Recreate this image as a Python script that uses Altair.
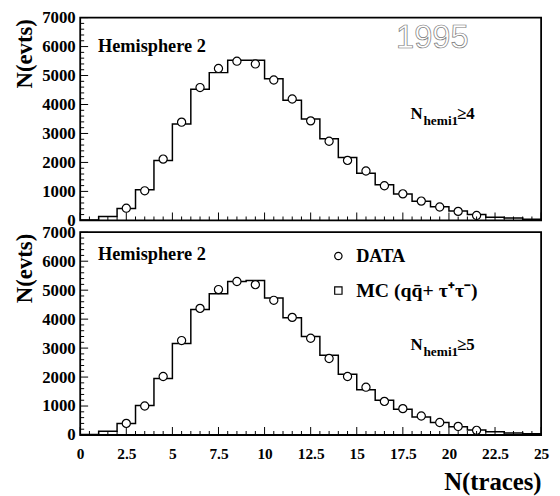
import altair as alt
import pandas as pd

# ---------------- data ----------------
edges = list(range(26))  # bin edges 0..25 (bin width 1)

mc_top = [15, 130, 410, 1060, 2070, 3330, 4530, 5100, 5530, 5530, 4890, 4150, 3500,
          2820, 2170, 1630, 1230, 910, 660, 470, 320, 200, 110, 80, 35]
mc_bot = [15, 130, 400, 1020, 1950, 3155, 4335, 4880, 5300, 5330, 4730, 4050, 3400,
          2750, 2100, 1565, 1200, 885, 625, 430, 285, 170, 110, 70, 40]

data_x = [2.5, 3.5, 4.5, 5.5, 6.5, 7.5, 8.5, 9.5, 10.5, 11.5, 12.5, 13.5, 14.5,
          15.5, 16.5, 17.5, 18.5, 19.5, 20.5, 21.5]
data_top = [420, 1020, 2115, 3390, 4585, 5245, 5495, 5400, 4845, 4190, 3435, 2730,
            2070, 1705, 1195, 915, 665, 460, 310, 170]
data_bot = [400, 1000, 2020, 3260, 4370, 5020, 5300, 5190, 4650, 4060, 3340, 2640,
            2020, 1650, 1160, 910, 655, 432, 296, 160]

x_major = [0, 2.5, 5, 7.5, 10, 12.5, 15, 17.5, 20, 22.5, 25]
x_minor = [i * 0.5 for i in range(51) if (i * 0.5) not in x_major]
y_major = [0, 1000, 2000, 3000, 4000, 5000, 6000, 7000]
y_minor = [i * 200 for i in range(36) if (i * 200) % 1000 != 0]

W, H = 466, 205
SERIF = "Liberation Serif"

xscale = alt.Scale(domain=[0, 25], nice=False, zero=False)
yscale = alt.Scale(domain=[0, 7000], nice=False, zero=False)


def text_layer(txt, x, y, size=18.5, font=SERIF, weight="bold", align="left", **kw):
    kw.setdefault("color", "black")
    return alt.Chart(pd.DataFrame({"t": [txt]})).mark_text(
        font=font, fontSize=size, fontWeight=weight, align=align, baseline="middle", **kw
    ).encode(x=alt.value(x), y=alt.value(y), text="t:N")


def panel(mc, data, bottom, label_digit):
    hist_df = pd.DataFrame({"x": edges, "y": mc + [mc[-1]]})
    pts_df = pd.DataFrame({"x": data_x, "y": data})

    if bottom:
        xaxis = alt.Axis(values=x_major, tickCount=30, format=".3~g", ticks=False,
                         domain=False, grid=False,
                         labelFont=SERIF, labelFontSize=15.5, labelFontWeight="bold",
                         labelColor="black", labelPadding=12, labelFlush=False,
                         labelOverlap=False,
                         title="N(traces)", titleFont=SERIF, titleFontSize=25,
                         titleFontWeight="bold", titleColor="black", titleAlign="right",
                         titleBaseline="alphabetic", titleX=W, titleY=55)
    else:
        xaxis = None

    yaxis = alt.Axis(values=y_major, tickCount=30, format="d", ticks=False, domain=False,
                     grid=False,
                     labelFont=SERIF, labelFontSize=17, labelFontWeight="bold",
                     labelColor="black", labelPadding=5, labelOverlap=False,
                     title="N(evts)", titleFont=SERIF, titleFontSize=23,
                     titleFontWeight="bold", titleColor="black", titleAngle=270,
                     titleAlign="right", titleBaseline="alphabetic",
                     titleX=-49, titleY=1)

    hist = alt.Chart(hist_df).mark_line(
        interpolate="step-after", color="black", strokeWidth=1.5
    ).encode(
        x=alt.X("x:Q", scale=xscale, axis=xaxis),
        y=alt.Y("y:Q", scale=yscale, axis=yaxis),
    )

    pts = alt.Chart(pts_df).mark_point(
        shape="circle", filled=True, fill="white", stroke="black",
        strokeWidth=1.2, size=68, opacity=1
    ).encode(x="x:Q", y="y:Q")

    xt_major = alt.Chart(pd.DataFrame({"x": x_major})).mark_tick(
        orient="vertical", color="black", thickness=1, size=8, opacity=1
    ).encode(x="x:Q", y=alt.value(H - 4))
    xt_minor = alt.Chart(pd.DataFrame({"x": x_minor})).mark_tick(
        orient="vertical", color="black", thickness=1, size=4, opacity=1
    ).encode(x="x:Q", y=alt.value(H - 2))
    yt_major = alt.Chart(pd.DataFrame({"y": y_major})).mark_tick(
        orient="horizontal", color="black", thickness=1, size=8, opacity=1
    ).encode(y="y:Q", x=alt.value(4))
    yt_minor = alt.Chart(pd.DataFrame({"y": y_minor})).mark_tick(
        orient="horizontal", color="black", thickness=1, size=4, opacity=1
    ).encode(y="y:Q", x=alt.value(2))

    layers = [hist, pts, xt_major, xt_minor, yt_major, yt_minor,
              text_layer("Hemisphere 2", 18, 29 if not bottom else 22)]

    ny = 98 if not bottom else 114
    nx = 334
    layers += [
        text_layer("N", nx, ny, size=17),
        text_layer("hemi1", nx + 13, ny + 7, size=13.5),
        text_layer("\u2265" + label_digit, nx + 47, ny, size=17),
    ]

    if not bottom:
        layers.append(text_layer("1995", 356, 21, size=33, font="Liberation Sans",
                                 weight="normal", align="center",
                                 fill="white", stroke="#777", strokeWidth=0.7))
    else:
        leg_c = alt.Chart(pd.DataFrame({"t": ["DATA"]})).mark_point(
            shape="circle", filled=True, fill="white", stroke="black",
            strokeWidth=1.2, size=55, opacity=1
        ).encode(x=alt.value(261), y=alt.value(24))
        leg_s = alt.Chart(pd.DataFrame({"t": ["MC"]})).mark_point(
            shape="square", filled=True, fill="white", stroke="black",
            strokeWidth=1.2, size=55, opacity=1
        ).encode(x=alt.value(261), y=alt.value(59))
        layers += [leg_c, leg_s,
                   text_layer("DATA", 279, 24, size=18.5),
                   text_layer("MC (qq\u0304+ \u03c4\u207a\u03c4\u207b)", 279, 59, size=20)]

    return alt.layer(*layers).properties(width=W, height=H)


top = panel(mc_top, data_top, False, "4")
bot = panel(mc_bot, data_bot, True, "5")

chart = alt.vconcat(top, bot, spacing=12, bounds="flush").properties(
    padding={"left": 5, "top": -3, "right": 2, "bottom": 0},
).configure(background="white").configure_view(
    stroke="black", strokeWidth=1.8
)

chart.save("out.html", embed_options={"renderer": "svg", "actions": False})
